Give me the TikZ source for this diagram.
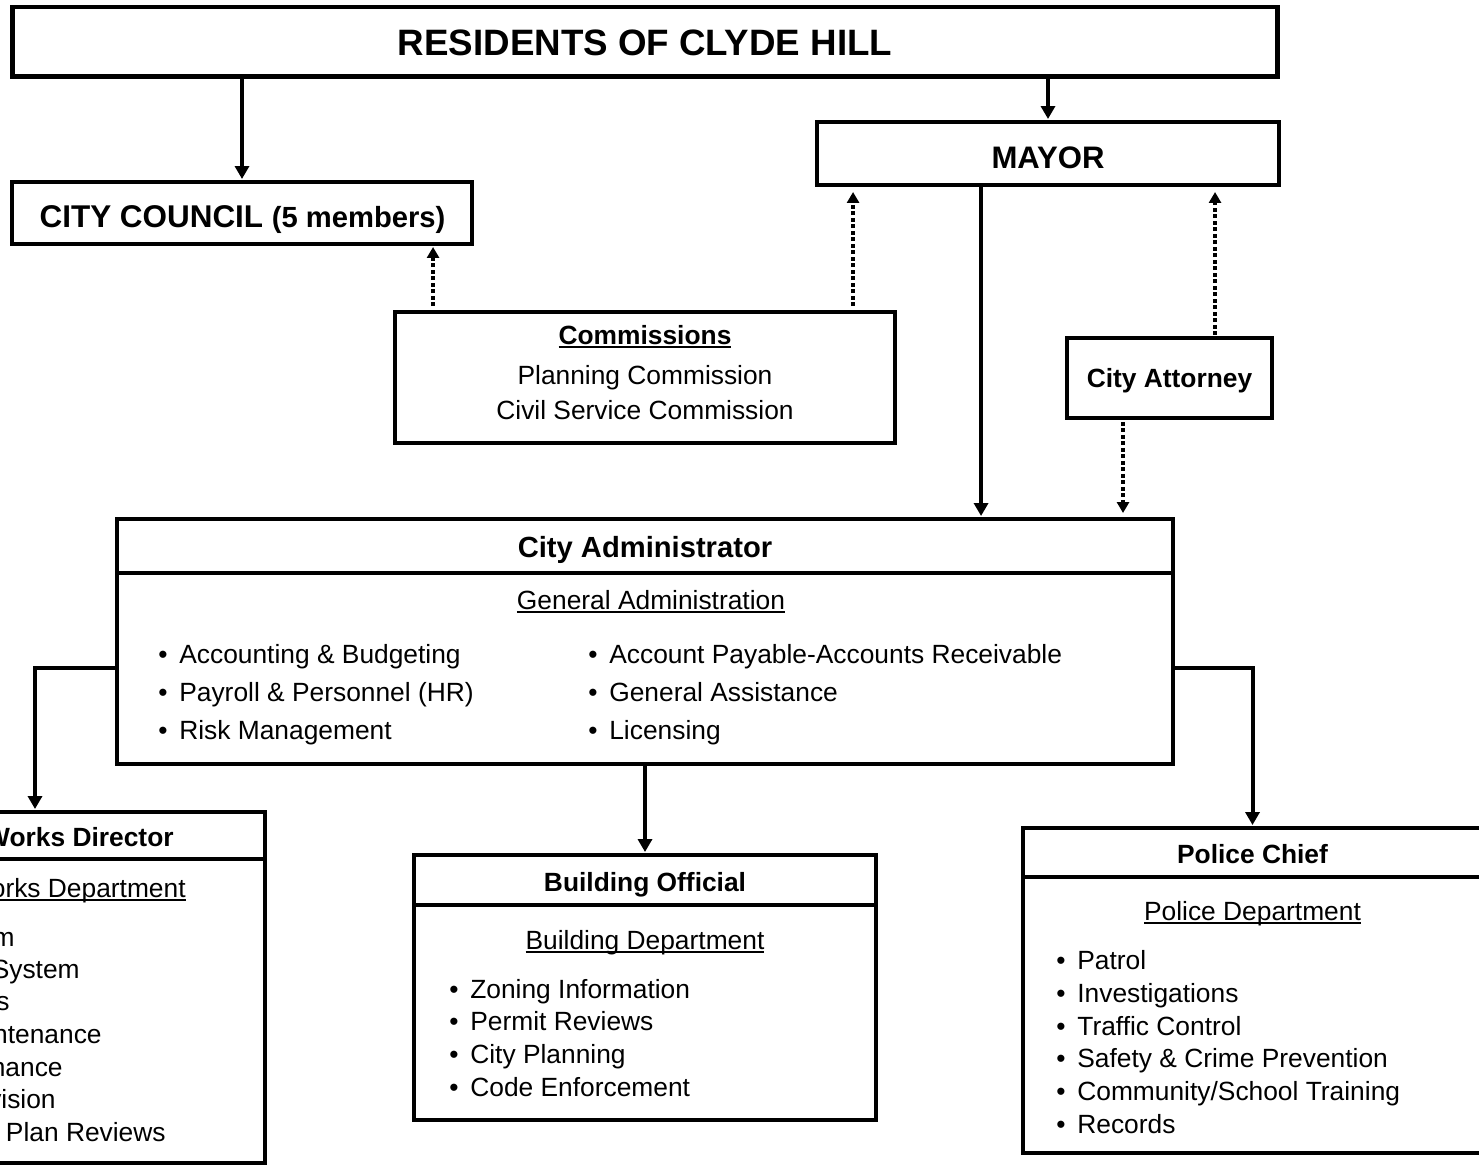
\documentclass[tikz,border=0pt]{standalone}
\usepackage{fontspec}
\setmainfont{Liberation Sans}
\usetikzlibrary{arrows.meta,calc}
\newcommand{\fs}[1]{\fontsize{#1}{#1}\selectfont}
\newcommand{\ulx}[1]{\setbox0=\hbox{#1}\rlap{\rule[-0.15em]{\wd0}{0.08em}}\box0}
\newcommand{\bul}{\makebox[0.42cm][l]{\textbullet}}
\tikzset{
  box/.style={draw, line width=0.08cm, inner sep=0pt, outer sep=0pt, fill=white},
  conn/.style={line width=0.08cm},
  lbl/.style={anchor=base, inner sep=0pt, font=\fs{15}},
  hd/.style={anchor=base, inner sep=0pt, font=\bfseries\fs{15}},
  itm/.style={anchor=base west, inner sep=0pt, font=\fs{15}},
  cut/.style={anchor=base east, inner sep=0pt, font=\fs{15}},
  arr/.style={line width=0.08cm, -{Triangle[length=0.26cm,width=0.28cm]}, shorten >=0.06cm},
  dotarr/.style={line width=0.08cm, dash pattern=on 0.08cm off 0.05cm, -{Triangle[length=0.22cm,width=0.24cm]}},
}
\begin{document}
\begin{tikzpicture}[x=0.02cm,y=-0.02cm]
\useasboundingbox (0,0) rectangle (1479,1165);
\clip (0,0) rectangle (1479,1165);
\fill[white] (0,0) rectangle (1479,1165);

% boxes
\node[box, line width=0.1cm, minimum width=25.32cm, minimum height=1.40cm] (res) at (645,42) {};
\node[box, minimum width=9.20cm, minimum height=1.24cm] (council) at (242,213) {};
\node[box, minimum width=9.24cm, minimum height=1.26cm] (mayor) at (1048,153.5) {};
\node[box, minimum width=10.00cm, minimum height=2.62cm] (comm) at (645,377.5) {};
\node[box, minimum width=4.10cm, minimum height=1.60cm] (att) at (1169.5,378) {};
\node[box, minimum width=21.12cm, minimum height=4.90cm] (admin) at (645,641.5) {};
\node[box, minimum width=9.20cm, minimum height=7.02cm] (pw) at (35,987.5) {};
\node[box, minimum width=9.24cm, minimum height=5.30cm] (bldg) at (645,987.5) {};
\node[box, minimum width=9.18cm, minimum height=6.50cm] (police) at (1252.5,990.5) {};

% header dividers
\draw[conn] ($(admin.north west)+(0,54)$) -- ($(admin.north east)+(0,54)$);
\draw[conn] ($(pw.north west)+(0,47)$) -- ($(pw.north east)+(0,47)$);
\draw[conn] ($(bldg.north west)+(0,50)$) -- ($(bldg.north east)+(0,50)$);
\draw[conn] ($(police.north west)+(0,49)$) -- ($(police.north east)+(0,49)$);

% texts
\node[anchor=base, inner sep=0pt, font=\bfseries\fs{20.9}] (tres) at (645,55.3) {RESIDENTS OF CLYDE HILL};
\node[anchor=base, inner sep=0pt, font=\bfseries\fs{17.7}] (tmayor) at (1048,168.2) {MAYOR};
\node[anchor=base, inner sep=0pt, font=\bfseries] (tcouncil) at (242.5,227.2) {\fs{17.9}CITY COUNCIL \fs{16.6}(5 members)};
\node[hd] (tcomm) at (645,344.5) {\ulx{Commissions}};
\node[lbl] (tcomm1) at (645,384.5) {Planning Commission};
\node[lbl] (tcomm2) at (645,419.5) {Civil Service Commission};
\node[hd] (tatt) at (1169.5,387.5) {City Attorney};

\node[anchor=base, inner sep=0pt, font=\bfseries\fs{16.6}] (tadmin) at (645,557.4) {City Administrator};
\node[lbl] (tgen) at (651,609.5) {\ulx{General Administration}};
\node[itm] (ad1) at (158,663.5) {\bul Accounting \& Budgeting};
\node[itm] (ad2) at (158,701.5) {\bul Payroll \& Personnel (HR)};
\node[itm] (ad3) at (158,739.5) {\bul Risk Management};
\node[itm] (ad4) at (588,663.5) {\bul Account Payable-Accounts Receivable};
\node[itm] (ad5) at (588,701.5) {\bul General Assistance};
\node[itm] (ad6) at (588,739.5) {\bul Licensing};

\node[anchor=base east, inner sep=0pt, font=\bfseries\fs{15}] (tpw) at (174,846.5) {Works Director};
\node[cut] (tpwd) at (186,897.5) {\ulx{Works Department}};
\node[cut] (pw1) at (15,946.5) {m};
\node[cut] (pw2) at (80,978.5) {System};
\node[cut] (pw3) at (10,1010.5) {s};
\node[cut] (pw4) at (102,1043.5) {ntenance};
\node[cut] (pw5) at (63,1076.5) {nance};
\node[cut] (pw6) at (56,1108.5) {vision};
\node[cut] (pw7) at (166,1141.5) {Plan Reviews};

\node[hd] (tbldg) at (645,891.5) {Building Official};
\node[lbl] (tbldgd) at (645,949.5) {\ulx{Building Department}};
\node[itm] (b1) at (449,998.5) {\bul Zoning Information};
\node[itm] (b2) at (449,1030.5) {\bul Permit Reviews};
\node[itm] (b3) at (449,1063.5) {\bul City Planning};
\node[itm] (b4) at (449,1096.5) {\bul Code Enforcement};

\node[hd] (tpol) at (1252.5,863.5) {Police Chief};
\node[lbl] (tpold) at (1252.5,920.5) {\ulx{Police Department}};
\node[itm] (p1) at (1056,969.5) {\bul Patrol};
\node[itm] (p2) at (1056,1002.5) {\bul Investigations};
\node[itm] (p3) at (1056,1035.5) {\bul Traffic Control};
\node[itm] (p4) at (1056,1067.5) {\bul Safety \& Crime Prevention};
\node[itm] (p5) at (1056,1100.5) {\bul Community/School Training};
\node[itm] (p6) at (1056,1133.5) {\bul Records};

% connectors
\draw[arr] (council.north |- res.south) -- (council.north);
\draw[arr] (mayor.north |- res.south) -- (mayor.north);
\coordinate (c1) at ($(comm.north west)+(38,0)$);
\draw[dotarr, shorten <=0.12cm, shorten >=0.06cm] (c1) -- (c1 |- council.south);
\coordinate (c2) at ($(comm.north west)+(458,0)$);
\draw[dotarr, shorten <=0.12cm, shorten >=0.14cm] (c2) -- (c2 |- mayor.south);
\coordinate (m1) at ($(mayor.south west)+(164,0)$);
\draw[arr] (m1) -- (m1 |- admin.north);
\coordinate (a1) at ($(att.north west)+(148,0)$);
\draw[dotarr, shorten <=0.06cm, shorten >=0.14cm] (a1) -- (a1 |- mayor.south);
\coordinate (a2) at ($(att.south west)+(56,0)$);
\draw[dotarr, shorten <=0.08cm, shorten >=0.12cm] (a2) -- (a2 |- admin.north);
\coordinate (l1) at ($(admin.south west)+(0,-96)$);
\draw[arr] (l1) -| (pw.north);
\coordinate (r1) at ($(admin.south east)+(0,-96)$);
\draw[arr] (r1) -| (police.north);
\draw[arr] (admin.south) -- (bldg.north);
\end{tikzpicture}
\end{document}
